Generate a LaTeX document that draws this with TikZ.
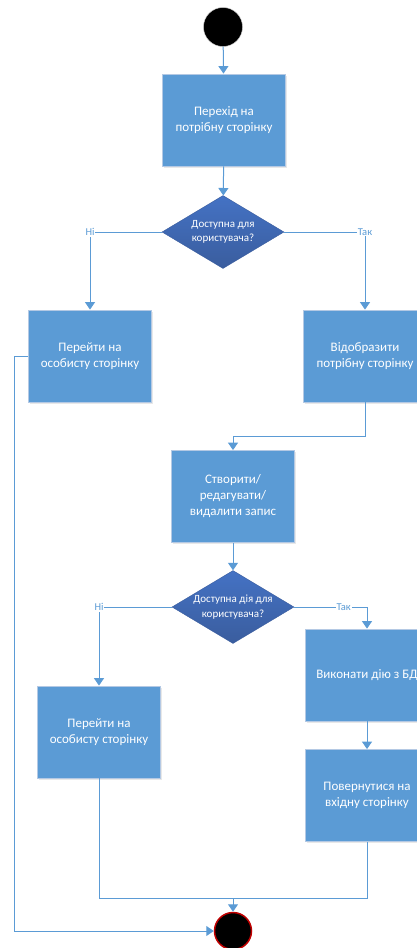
\documentclass[tikz,border=0pt]{standalone}
\usepackage{fontspec}
\setmainfont{Carlito}
\usetikzlibrary{shapes.geometric,arrows.meta,shadows}

\begin{document}
\begin{tikzpicture}[x=1pt,y=-1pt,
		kasten/.style={rectangle, fill=blau, draw=rand, line width=0.8pt, minimum width=123pt, minimum height=92pt, align=center, text=white, font=\fontsize{13}{16}\selectfont, drop shadow={opacity=0.18, shadow xshift=1pt, shadow yshift=-1.5pt}},
		raute/.style={diamond, top color=rauteoben, bottom color=rauteunten, draw=rauteunten, minimum width=122pt, minimum height=73pt, inner sep=0pt, aspect=1.67, align=center, text=white, font=\fontsize{11}{14.5}\selectfont},
		pfeil/.style={draw=blau, line width=1pt, -{Triangle[width=10pt,length=7.5pt]}},
		linie/.style={draw=blau, line width=1pt},
		marke/.style={fill=white, text=blau, inner sep=1pt, font=\fontsize{10.5}{12}\selectfont}]


		\definecolor{blau}{HTML}{5B9BD5}
		\definecolor{rand}{HTML}{B4C9E4}
		\definecolor{rauteoben}{HTML}{4472C4}
		\definecolor{rauteunten}{HTML}{3A5D9E}
		\definecolor{endrot}{HTML}{C00000}

		\path[use as bounding box, clip] (0,0) rectangle (417,948);

		% Start und Ende
		\node[circle, fill=black, draw=gray!40, inner sep=0pt, minimum size=39pt] (start) at (223,27) {};
		\node[circle, fill=black, draw=endrot, line width=1.5pt, inner sep=0pt, minimum size=37pt] (ende) at (233,931) {};

		% Schritte
		\node[kasten] (uebergang) at (224,120) {Перехід на\\потрібну сторінку};
		\node[raute]  (zugang)    at (223,232) {Доступна для\\користувача?};
		\node[kasten] (profil)    at (90,356)  {Перейти на\\особисту сторінку};
		\node[kasten] (anzeigen)  at (365,356) {Відобразити\\потрібну сторінку};
		\node[kasten] (bearbeiten) at (233,496.5) {Створити/\\редагувати/\\видалити запис};
		\node[raute]  (aktion)    at (233,607) {Доступна дія для\\користувача?};
		\node[kasten] (profilzwei) at (99,732) {Перейти на\\особисту сторінку};
		\node[kasten] (ausfuehren) at (367,675) {Виконати дію з БД};
		\node[kasten] (zurueck)   at (367,795.5) {Повернутися на\\вхідну сторінку};
		\coordinate (sammeln) at (233,898);

		% Verbindungen
		\draw[pfeil] (start) -- (uebergang);
		\draw[pfeil] (uebergang) -- (zugang);
		\draw[pfeil] (zugang.west) -| node[marke, pos=0.5] {Ні} (profil.north);
		\draw[pfeil] (zugang.east) -| node[marke, pos=0.5] {Так} (anzeigen.north);
		\draw[pfeil] (anzeigen.south) -- ++(0,34) -| (bearbeiten.north);
		\draw[pfeil] (bearbeiten) -- (aktion);
		\draw[pfeil] (aktion.west) -| node[marke, pos=0.5] {Ні} (profilzwei.north);
		\draw[pfeil] (aktion.east) -| node[marke, pos=0.34] {Так} (ausfuehren.north);
		\draw[pfeil] (ausfuehren) -- (zurueck);
		\draw[linie] (profilzwei.south) |- (sammeln);
		\draw[linie] (zurueck.south) |- (sammeln);
		\draw[pfeil] (sammeln) -- (ende);
		\draw[pfeil] (profil.west) -- ++(-14,0) |- (ende.west);

\end{tikzpicture}
\end{document}
